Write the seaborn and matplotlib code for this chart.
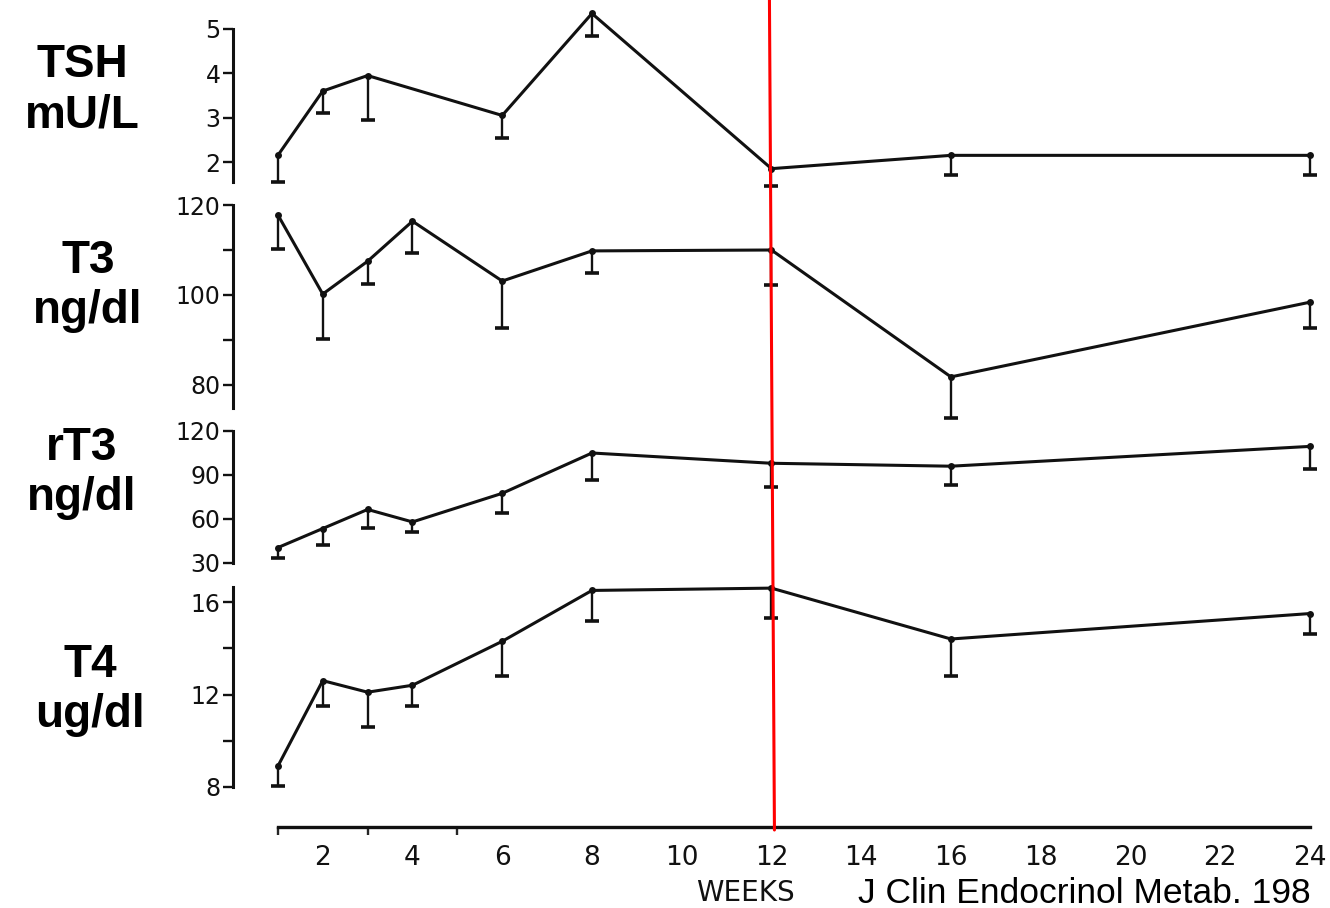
import numpy as np
import pandas as pd
import matplotlib
matplotlib.use("Agg")
import matplotlib.pyplot as plt
import seaborn as sns
from matplotlib.lines import Line2D

# ---------------- data ----------------
weeks_tsh = [1, 2, 3, 6, 8, 12, 16, 24]
tsh_mean = [2.15, 3.6, 3.95, 3.05, 5.35, 1.85, 2.15, 2.15]
tsh_low = [1.55, 3.1, 2.95, 2.55, 4.85, 1.45, 1.7, 1.7]

weeks = [1, 2, 3, 4, 6, 8, 12, 16, 24]
t3_mean = [117.8, 100.2, 107.5, 116.4, 103.1, 109.8, 110.0, 81.8, 98.4]
t3_low = [110.2, 90.2, 102.4, 109.3, 92.7, 105.0, 102.2, 72.7, 92.6]

rt3_mean = [40.5, 53.5, 66.5, 58.0, 77.5, 105.0, 98.0, 96.0, 109.5]
rt3_low = [33.5, 42.5, 54.0, 51.0, 64.0, 86.5, 82.0, 83.0, 94.0]

t4_mean = [8.9, 12.6, 12.1, 12.4, 14.3, 16.5, 16.6, 14.4, 15.5]
t4_low = [8.05, 11.5, 10.6, 11.5, 12.8, 15.2, 15.3, 12.8, 14.6]

panel_labels = ["TSH\nmU/L", "T3\nng/dl", "rT3\nng/dl", "T4\nug/dl"]
x_major = [2, 4, 6, 8, 10, 12, 14, 16, 18, 20, 22, 24]
x_minor = [1, 3, 5]
marker_week = 12
x_label = "WEEKS"
citation = "J Clin Endocrinol Metab. 198"

# ---------------- style ----------------
sns.set_theme(style="white")
plt.rcParams["font.family"] = ["DejaVu Sans"]

W, H = 1330, 908
fig = plt.figure(figsize=(W / 100, H / 100), dpi=100)
fig.patch.set_facecolor("white")

X0 = 233  # pixel of week 0
PX_WEEK = 44.87
xlim = (0, (W - X0) / PX_WEEK)


def add_ax(top_px, bot_px):
    return fig.add_axes([X0 / W, 1 - bot_px / H, (W - X0) / W, (bot_px - top_px) / H])


def ylim_from(top_px, bot_px, v1, p1, v2, p2):
    s = (p2 - p1) / (v1 - v2)  # px per unit
    return (v2 - (bot_px - p2) / s, v1 + (p1 - top_px) / s)


panels = [
    dict(x=weeks_tsh, y=tsh_mean, lo=tsh_low, box=(0, 192), ref=(5, 29, 2, 162),
         ticks=[2, 3, 4, 5], labels=["2", "3", "4", "5"], bounds=(1.55, 5),
         lab_xy=(82, 90)),
    dict(x=weeks, y=t3_mean, lo=t3_low, box=(195, 422), ref=(120, 205, 80, 385),
         ticks=[80, 90, 100, 110, 120], labels=["80", "", "100", "", "120"], bounds=(75, 120),
         lab_xy=(88, 286)),
    dict(x=weeks, y=rt3_mean, lo=rt3_low, box=(422, 578), ref=(120, 431, 30, 563),
         ticks=[30, 60, 90, 120], labels=["30", "60", "90", "120"], bounds=(30, 120),
         lab_xy=(82, 473)),
    dict(x=weeks, y=t4_mean, lo=t4_low, box=(578, 800), ref=(16, 602, 8, 787),
         ticks=[8, 10, 12, 14, 16], labels=["8", "", "12", "", "16"], bounds=(8, 16.65),
         lab_xy=(90, 690)),
]

for p, lab in zip(panels, panel_labels):
    ax = add_ax(*p["box"])
    ax.set_facecolor("none")
    df = pd.DataFrame({"week": p["x"], "value": p["y"], "low": p["lo"]})
    # one-sided (downward) error bars
    ax.vlines(df["week"], df["low"], df["value"], color="#111111", lw=1.7, zorder=2)
    sns.scatterplot(data=df, x="week", y="low", marker="_", s=110, linewidth=2.6,
                    color="#111111", ax=ax, zorder=3)
    sns.lineplot(data=df, x="week", y="value", color="#111111", lw=2.2, marker="o",
                 markersize=5, markeredgewidth=0, ax=ax, zorder=4)
    ax.set_xlim(*xlim)
    ax.set_ylim(*ylim_from(p["box"][0], p["box"][1], *p["ref"]))
    for s in ["top", "right", "bottom"]:
        ax.spines[s].set_visible(False)
    ax.spines["left"].set_bounds(*p["bounds"])
    ax.spines["left"].set_linewidth(2.2)
    ax.spines["left"].set_color("#111111")
    ax.set_yticks(p["ticks"])
    ax.set_yticklabels(p["labels"])
    ax.tick_params(axis="y", direction="out", length=7, width=1.7, pad=2,
                   labelsize=17, colors="#111111", left=True)
    ax.set_xticks([])
    ax.set_xlabel("")
    ax.set_ylabel("")
    fig.text(p["lab_xy"][0] / W, 1 - p["lab_xy"][1] / H, lab, ha="center", va="center",
             fontsize=33, fontweight="bold", family=["Liberation Sans", "DejaVu Sans"],
             linespacing=1.2, color="black")

# bottom x axis
axx = add_ax(800, 827)
axx.set_facecolor("none")
axx.set_xlim(*xlim)
axx.set_ylim(0, 1)
for s in ["top", "right", "left"]:
    axx.spines[s].set_visible(False)
axx.spines["bottom"].set_bounds(1, 24)
axx.spines["bottom"].set_linewidth(2.4)
axx.spines["bottom"].set_color("#111111")
axx.set_yticks([])
axx.set_xticks(x_major)
axx.set_xticklabels([str(v) for v in x_major])
axx.set_xticks(x_minor, minor=True)
axx.tick_params(axis="x", which="major", direction="out", length=8, width=1.7,
                pad=5, labelsize=19, colors="#111111")
axx.tick_params(axis="x", which="minor", direction="out", length=6, width=1.7,
                bottom=True)

fig.text(745 / W, 1 - 893 / H, x_label, ha="center", va="center", fontsize=20,
         color="#111111")
fig.text(858 / W, 1 - 903 / H, citation, ha="left", va="baseline", fontsize=25.5,
         family=["Liberation Sans", "DejaVu Sans"], color="black")

# red vertical marker at week 12 (slightly tilted as in the scan)
xr = X0 + marker_week * PX_WEEK
fig.add_artist(Line2D([(xr - 2) / W, (xr + 3) / W], [1.0, 1 - 830 / H],
                      transform=fig.transFigure, color="red", lw=2.2, zorder=10))

fig.savefig("out.png", dpi=100, facecolor="white")
